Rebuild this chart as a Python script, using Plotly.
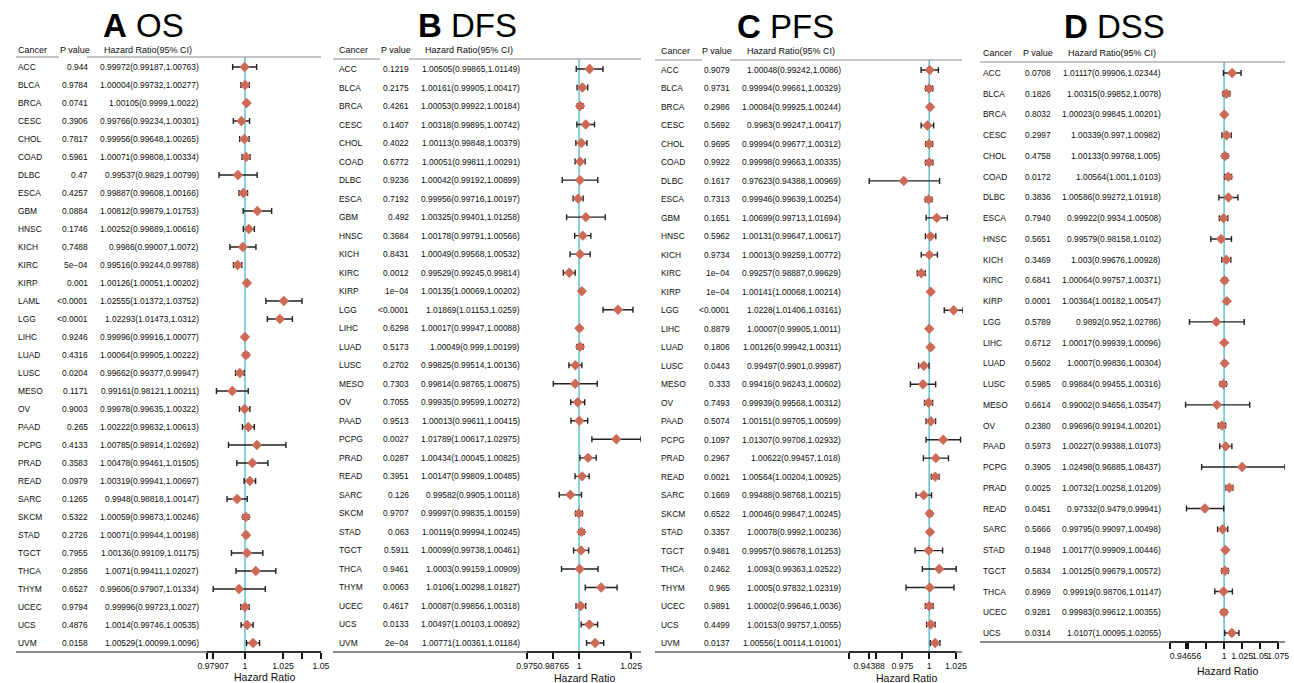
import plotly.graph_objects as go

W, H = 1294, 683

# ---------------- data ----------------
os_cancer = ["ACC","BLCA","BRCA","CESC","CHOL","COAD","DLBC","ESCA","GBM","HNSC","KICH","KIRC","KIRP","LAML","LGG","LIHC","LUAD","LUSC","MESO","OV","PAAD","PCPG","PRAD","READ","SARC","SKCM","STAD","TGCT","THCA","THYM","UCEC","UCS","UVM"]
os_p = ["0.944","0.9784","0.0741","0.3906","0.7817","0.5961","0.47","0.4257","0.0884","0.1746","0.7488","5e\u221204","0.001","<0.0001","<0.0001","0.9246","0.4316","0.0204","0.1171","0.9003","0.265","0.4133","0.3583","0.0979","0.1265","0.5322","0.2726","0.7955","0.2856","0.6527","0.9794","0.4876","0.0158"]
os_hr = [0.99972,1.00004,1.00105,0.99766,0.99956,1.00071,0.99537,0.99887,1.00812,1.00252,0.9986,0.99516,1.00126,1.02555,1.02293,0.99996,1.00064,0.99662,0.99161,0.99978,1.00222,1.00785,1.00478,1.00319,0.9948,1.00059,1.00071,1.00136,1.0071,0.99606,0.99996,1.0014,1.00529]
os_lo = [0.99187,0.99732,0.9999,0.99234,0.99648,0.99808,0.9829,0.99608,0.99879,0.99889,0.99007,0.99244,1.00051,1.01372,1.01473,0.99916,0.99905,0.99377,0.98121,0.99635,0.99832,0.98914,0.99461,0.99941,0.98818,0.99873,0.99944,0.99109,0.99411,0.97907,0.99723,0.99746,1.00099]
os_hi = [1.00763,1.00277,1.0022,1.00301,1.00265,1.00334,1.00799,1.00166,1.01753,1.00616,1.0072,0.99788,1.00202,1.03752,1.0312,1.00077,1.00222,0.99947,1.00211,1.00322,1.00613,1.02692,1.01505,1.00697,1.00147,1.00246,1.00198,1.01175,1.02027,1.01334,1.0027,1.00535,1.0096]
os_ticks = [0.975, 0.97907, 1, 1.025, 1.0375, 1.05]
os_ticklabels = ["", "0.97907", "1", "1.025", "", "1.05"]

dfs_cancer = ["ACC","BLCA","BRCA","CESC","CHOL","COAD","DLBC","ESCA","GBM","HNSC","KICH","KIRC","KIRP","LGG","LIHC","LUAD","LUSC","MESO","OV","PAAD","PCPG","PRAD","READ","SARC","SKCM","STAD","TGCT","THCA","THYM","UCEC","UCS","UVM"]
dfs_p = ["0.1219","0.2175","0.4261","0.1407","0.4022","0.6772","0.9236","0.7192","0.492","0.3684","0.8431","0.0012","1e\u221204","<0.0001","0.6298","0.5173","0.2702","0.7303","0.7055","0.9513","0.0027","0.0287","0.3951","0.126","0.9707","0.063","0.5911","0.9461","0.0063","0.4617","0.0133","2e\u221204"]
dfs_hr = [1.00505,1.00161,1.00053,1.00318,1.00113,1.00051,1.00042,0.99956,1.00325,1.00178,1.00049,0.99529,1.00135,1.01869,1.00017,1.00049,0.99825,0.99814,0.99935,1.00013,1.01789,1.00434,1.00147,0.99582,0.99997,1.00119,1.00099,1.0003,1.0106,1.00087,1.00497,1.00771]
dfs_lo = [0.99865,0.99905,0.99922,0.99895,0.99848,0.99811,0.99192,0.99716,0.99401,0.99791,0.99568,0.99245,1.00069,1.01153,0.99947,0.999,0.99514,0.98765,0.99599,0.99611,1.00617,1.00045,0.99809,0.9905,0.99835,0.99994,0.99738,0.99159,1.00298,0.99856,1.00103,1.00361]
dfs_hi = [1.01149,1.00417,1.00184,1.00742,1.00379,1.00291,1.00899,1.00197,1.01258,1.00566,1.00532,0.99814,1.00202,1.0259,1.00088,1.00199,1.00136,1.00875,1.00272,1.00415,1.02975,1.00825,1.00485,1.00118,1.00159,1.00245,1.00461,1.00909,1.01827,1.00318,1.00892,1.01184]
dfs_ticks = [0.975, 0.98765, 1, 1.025]
dfs_ticklabels = ["0.975", "0.98765", "1", "1.025"]

pfs_cancer = ["ACC","BLCA","BRCA","CESC","CHOL","COAD","DLBC","ESCA","GBM","HNSC","KICH","KIRC","KIRP","LGG","LIHC","LUAD","LUSC","MESO","OV","PAAD","PCPG","PRAD","READ","SARC","SKCM","STAD","TGCT","THCA","THYM","UCEC","UCS","UVM"]
pfs_p = ["0.9079","0.9731","0.2986","0.5692","0.9695","0.9922","0.1617","0.7313","0.1651","0.5962","0.9734","1e\u221204","1e\u221204","<0.0001","0.8879","0.1806","0.0443","0.333","0.7493","0.5074","0.1097","0.2967","0.0021","0.1669","0.6522","0.3357","0.9481","0.2462","0.965","0.9891","0.4499","0.0137"]
pfs_hr = [1.00048,0.99994,1.00084,0.9983,0.99994,0.99998,0.97623,0.99946,1.00699,1.00131,1.00013,0.99257,1.00141,1.0228,1.00007,1.00126,0.99497,0.99416,0.99939,1.00151,1.01307,1.00622,1.00564,0.99488,1.00046,1.00078,0.99957,1.0093,1.0005,1.00002,1.00153,1.00556]
pfs_lo = [0.99242,0.99661,0.99925,0.99247,0.99677,0.99663,0.94388,0.99639,0.99713,0.99647,0.99259,0.98887,1.00068,1.01406,0.99905,0.99942,0.9901,0.98243,0.99568,0.99705,0.99708,0.99457,1.00204,0.98768,0.99847,0.9992,0.98678,0.99363,0.97832,0.99646,0.99757,1.00114]
pfs_hi = [1.0086,1.00329,1.00244,1.00417,1.00312,1.00335,1.00969,1.00254,1.01694,1.00617,1.00772,0.99629,1.00214,1.03161,1.0011,1.00311,0.99987,1.00602,1.00312,1.00599,1.02932,1.018,1.00925,1.00215,1.00245,1.00236,1.01253,1.02522,1.02319,1.0036,1.0055,1.01001]
pfs_ticks = [0.925, 0.94388, 0.95, 0.975, 1, 1.025]
pfs_ticklabels = ["", "0.94388", "", "0.975", "1", "1.025"]

dss_cancer = ["ACC","BLCA","BRCA","CESC","CHOL","COAD","DLBC","ESCA","HNSC","KICH","KIRC","KIRP","LGG","LIHC","LUAD","LUSC","MESO","OV","PAAD","PCPG","PRAD","READ","SARC","STAD","TGCT","THCA","UCEC","UCS"]
dss_p = ["0.0708","0.1826","0.8032","0.2997","0.4758","0.0172","0.3836","0.7940","0.5651","0.3469","0.6841","0.0001","0.5789","0.6712","0.5602","0.5985","0.6614","0.2380","0.5973","0.3905","0.0025","0.0451","0.5666","0.1948","0.5834","0.8969","0.9281","0.0314"]
dss_hr = [1.01117,1.00315,1.00023,1.00339,1.00133,1.00564,1.00586,0.99922,0.99579,1.003,1.00064,1.00364,0.9892,1.00017,1.0007,0.99884,0.99002,0.99696,1.00227,1.02498,1.00732,0.97332,0.99795,1.00177,1.00125,0.99919,0.99983,1.0107]
dss_lo = [0.99906,0.99852,0.99845,0.997,0.99768,1.001,0.99272,0.9934,0.98158,0.99676,0.99757,1.00182,0.952,0.99939,0.99836,0.99455,0.94656,0.99194,0.99388,0.96885,1.00258,0.9479,0.99097,0.99909,0.99679,0.98706,0.99612,1.00095]
dss_hi = [1.02344,1.0078,1.00201,1.00982,1.005,1.0103,1.01918,1.00508,1.0102,1.00928,1.00371,1.00547,1.02786,1.00096,1.00304,1.00316,1.03547,1.00201,1.01073,1.08437,1.01209,0.99941,1.00498,1.00446,1.00572,1.01147,1.00355,1.02055]
dss_ticks = [0.925, 0.94656, 0.95, 0.975, 1, 1.025, 1.05, 1.075]
dss_ticklabels = ["", "0.94656", "", "", "1", "1.025", "1.05", "1.075"]

titles = [("A", "OS"), ("B", "DFS"), ("C", "PFS"), ("D", "DSS")]

# ---------------- layout geometry (pixels) ----------------
panels = [
    dict(cancer=os_cancer, p=os_p, hr=os_hr, lo=os_lo, hi=os_hi, ticks=os_ticks, tl=os_ticklabels,
         xl=207, xr=321, ytop=57, ybot=652, r0=67, rN=643,
         c_cancer=16, c_p=90, c_hr=201, h_p=92, h_hr=102, hdr_y=50, title_x=143, title_y=25,
         hseg=[(16, 59), (87, 321)], bseg=(16, 321), axt_y=677),
    dict(cancer=dfs_cancer, p=dfs_p, hr=dfs_hr, lo=dfs_lo, hi=dfs_hi, ticks=dfs_ticks, tl=dfs_ticklabels,
         xl=527, xr=641, ytop=59, ybot=652, r0=69, rN=643,
         c_cancer=337, c_p=411, c_hr=522, h_p=413, h_hr=423, hdr_y=50, title_x=467, title_y=25,
         hseg=[(333, 380), (409, 641)], bseg=(333, 641), axt_y=678),
    dict(cancer=pfs_cancer, p=pfs_p, hr=pfs_hr, lo=pfs_lo, hi=pfs_hi, ticks=pfs_ticks, tl=pfs_ticklabels,
         xl=849, xr=963, ytop=60, ybot=652, r0=70, rN=643,
         c_cancer=659, c_p=732, c_hr=843, h_p=734, h_hr=745, hdr_y=51, title_x=785, title_y=26,
         hseg=[(655, 702), (730, 962)], bseg=(655, 962), axt_y=678),
    dict(cancer=dss_cancer, p=dss_p, hr=dss_hr, lo=dss_lo, hi=dss_hi, ticks=dss_ticks, tl=dss_ticklabels,
         xl=1170, xr=1285, ytop=62, ybot=642, r0=73, rN=633,
         c_cancer=981, c_p=1053, c_hr=1163, h_p=1055, h_hr=1066, hdr_y=53, title_x=1114, title_y=27,
         hseg=[(980, 1285)], bseg=(980, 1285), axt_y=671),
]

FONT = "Liberation Sans"
TXT = "#0d0d0d"
DIAMOND = "#CD6A57"
TEAL = "#6CC4CE"


def px(x):
    return x / W


def py(y):
    return 1 - y / H


fig = go.Figure()
shapes = []
annotations = []

for k, pn in enumerate(panels):
    i = k + 1
    xa = "x" if i == 1 else f"x{i}"
    ya = "y" if i == 1 else f"y{i}"
    n = len(pn["cancer"])
    step = (pn["rN"] - pn["r0"]) / (n - 1)
    top_idx = (pn["ytop"] - pn["r0"]) / step
    bot_idx = (pn["ybot"] - pn["r0"]) / step
    idx = list(range(n))
    xmin = min(pn["ticks"])
    xmax = max(max(pn["ticks"]), max(pn["hi"]))

    fig.add_trace(go.Scatter(
        x=pn["hr"], y=idx, xaxis=xa, yaxis=ya, mode="markers",
        marker=dict(symbol="diamond", size=8, color=DIAMOND, line=dict(width=0)),
        error_x=dict(type="data", symmetric=False,
                     array=[h - m for h, m in zip(pn["hi"], pn["hr"])],
                     arrayminus=[m - l for m, l in zip(pn["hr"], pn["lo"])],
                     color="#222222", thickness=1.4, width=3),
        showlegend=False, hoverinfo="skip"))

    fig.update_layout(**{
        ("xaxis" if i == 1 else f"xaxis{i}"): dict(
            domain=[px(pn["xl"]), px(pn["xr"])], range=[xmin, xmax], anchor=ya,
            tickvals=pn["ticks"], ticktext=pn["tl"], ticks="outside", ticklen=6,
            tickwidth=1.5, tickcolor="#111111", showline=False, showgrid=False,
            zeroline=False, automargin=False, tickangle=0,
            tickfont=dict(family=FONT, size=8.7, color=TXT)),
        ("yaxis" if i == 1 else f"yaxis{i}"): dict(
            domain=[py(pn["ybot"]), py(pn["ytop"])], range=[bot_idx, top_idx],
            anchor=xa, visible=False, showgrid=False, zeroline=False),
    })

    # reference line at HR = 1
    shapes.append(dict(type="line", xref=xa, yref=f"{ya} domain", x0=1, x1=1, y0=0, y1=1,
                       line=dict(color=TEAL, width=1.6), layer="below"))
    # bottom gray rule
    shapes.append(dict(type="line", xref="paper", yref=f"{ya} domain",
                       x0=px(pn["bseg"][0]), x1=px(pn["bseg"][1]), y0=0, y1=0,
                       line=dict(color="#8a8a8a", width=2)))
    # axis line across the tick range
    shapes.append(dict(type="line", xref=xa, yref=f"{ya} domain",
                       x0=min(pn["ticks"]), x1=max(pn["ticks"]), y0=0, y1=0,
                       line=dict(color="#111111", width=1.6)))
    # header rules
    for a, b in pn["hseg"]:
        shapes.append(dict(type="line", xref="paper", yref="paper",
                           x0=px(a), x1=px(b), y0=py(pn["ytop"]), y1=py(pn["ytop"]),
                           line=dict(color="#8a8a8a", width=1.2)))

    # title
    letter, word = titles[k]
    annotations.append(dict(xref="paper", yref="paper", x=px(pn["title_x"]), y=py(pn["title_y"]),
                            text=f"<b>{letter}</b> {word}", showarrow=False, xanchor="center",
                            yanchor="middle", font=dict(family=FONT, size=33, color="#000000")))
    # headers
    hf = dict(family=FONT, size=9, color=TXT)
    annotations.append(dict(xref="paper", yref="paper", x=px(pn["c_cancer"]), y=py(pn["hdr_y"]),
                            text="Cancer", showarrow=False, xanchor="left", yanchor="middle", font=hf))
    annotations.append(dict(xref="paper", yref="paper", x=px(pn["h_p"]), y=py(pn["hdr_y"]),
                            text="P value", showarrow=False, xanchor="right", yanchor="middle", font=hf))
    annotations.append(dict(xref="paper", yref="paper", x=px(pn["h_hr"]), y=py(pn["hdr_y"]),
                            text="Hazard Ratio(95% CI)", showarrow=False, xanchor="left", yanchor="middle", font=hf))
    # axis title
    annotations.append(dict(xref=f"{xa} domain", yref="paper", x=0.5, y=py(pn["axt_y"]),
                            text="Hazard Ratio", showarrow=False, xanchor="center", yanchor="middle",
                            font=dict(family=FONT, size=10.5, color=TXT)))
    # rows
    rf = dict(family=FONT, size=8.4, color=TXT)
    for j in range(n):
        annotations.append(dict(xref="paper", yref=ya, x=px(pn["c_cancer"]), y=j,
                                text=pn["cancer"][j], showarrow=False, xanchor="left",
                                yanchor="middle", font=rf))
        annotations.append(dict(xref="paper", yref=ya, x=px(pn["c_p"]), y=j,
                                text=pn["p"][j], showarrow=False, xanchor="right",
                                yanchor="middle", font=rf))
        annotations.append(dict(xref="paper", yref=ya, x=px(pn["c_hr"]), y=j,
                                text=f'{pn["hr"][j]}({pn["lo"][j]},{pn["hi"][j]})',
                                showarrow=False, xanchor="right", yanchor="middle", font=rf))

fig.update_layout(width=W, height=H, margin=dict(l=0, r=0, t=0, b=0),
                  paper_bgcolor="white", plot_bgcolor="white",
                  shapes=shapes, annotations=annotations, showlegend=False)

fig.write_html("out.html", config={"displayModeBar": False},
               post_script="document.body.style.margin='0';document.body.style.overflow='hidden';")
